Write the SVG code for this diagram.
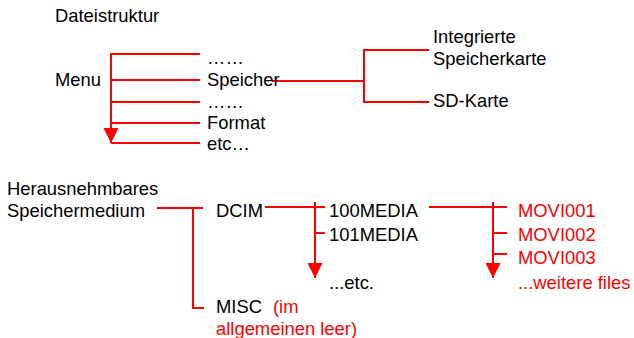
<svg xmlns="http://www.w3.org/2000/svg" width="634" height="338" viewBox="0 0 634 338">
<style>
text{font-family:"Liberation Sans",Arial,sans-serif;font-size:18.4px;fill:#000}
.red{fill:#ff0000}
.ln{stroke:#ff0000;stroke-width:2;fill:none}
</style>
<defs>
<marker id="arr" viewBox="0 0 10 10" refX="10" refY="5" markerWidth="15" markerHeight="15" markerUnits="userSpaceOnUse" orient="auto">
<path d="M0,0 L10,5 L0,10 Z" fill="#ff0000"/>
</marker>
</defs>
<rect width="634" height="338" fill="#fff"/>
<g id="connectors">
<line class="ln" x1="111" y1="53" x2="111" y2="143" marker-end="url(#arr)"/>
<line class="ln" x1="111" y1="54" x2="200" y2="54"/>
<line class="ln" x1="111" y1="80" x2="200" y2="80"/>
<line class="ln" x1="111" y1="102" x2="200" y2="102"/>
<line class="ln" x1="111" y1="123" x2="200" y2="123"/>
<line class="ln" x1="111" y1="143" x2="200" y2="143"/>
<line class="ln" x1="272" y1="81" x2="364" y2="81"/>
<polyline class="ln" points="429,50 364,50 364,102 429,102"/>
<line class="ln" x1="157" y1="208" x2="203" y2="208"/>
<polyline class="ln" points="193,208 193,308 204,308"/>
<line class="ln" x1="265" y1="207" x2="325" y2="207"/>
<line class="ln" x1="315" y1="202" x2="315" y2="278" marker-end="url(#arr)"/>
<line class="ln" x1="315" y1="233" x2="325" y2="233"/>
<line class="ln" x1="429" y1="207" x2="507" y2="207"/>
<line class="ln" x1="493" y1="202" x2="493" y2="278" marker-end="url(#arr)"/>
<line class="ln" x1="493" y1="233" x2="507" y2="233"/>
<line class="ln" x1="493" y1="254" x2="507" y2="254"/>
</g>
<g id="title"><text x="55" y="22">Dateistruktur</text></g>
<g id="menu"><text x="55" y="86">Menu</text></g>
<g id="item-dots1"><text x="207" y="64">……</text></g>
<g id="item-speicher"><text x="207" y="86">Speicher</text></g>
<g id="item-dots2"><text x="207" y="108">……</text></g>
<g id="item-format"><text x="207" y="129">Format</text></g>
<g id="item-etc"><text x="207" y="150">etc…</text></g>
<g id="integrierte"><text x="433" y="43">Integrierte</text><text x="433" y="65">Speicherkarte</text></g>
<g id="sdkarte"><text x="433" y="107">SD-Karte</text></g>
<g id="medium"><text x="7" y="195">Herausnehmbares</text><text x="7" y="217">Speichermedium</text></g>
<g id="dcim"><text x="216" y="217">DCIM</text></g>
<g id="misc"><text x="216" y="313">MISC</text><text class="red" x="273" y="313">(im</text><text class="red" x="216" y="335">allgemeinen leer)</text></g>
<g id="media100"><text x="329" y="217">100MEDIA</text></g>
<g id="media101"><text x="329" y="241">101MEDIA</text></g>
<g id="etc2"><text x="329" y="289">...etc.</text></g>
<g id="movi001"><text class="red" x="518" y="217">MOVI001</text></g>
<g id="movi002"><text class="red" x="518" y="241">MOVI002</text></g>
<g id="movi003"><text class="red" x="518" y="264">MOVI003</text></g>
<g id="weitere"><text class="red" x="518" y="289">...weitere files</text></g>
</svg>
